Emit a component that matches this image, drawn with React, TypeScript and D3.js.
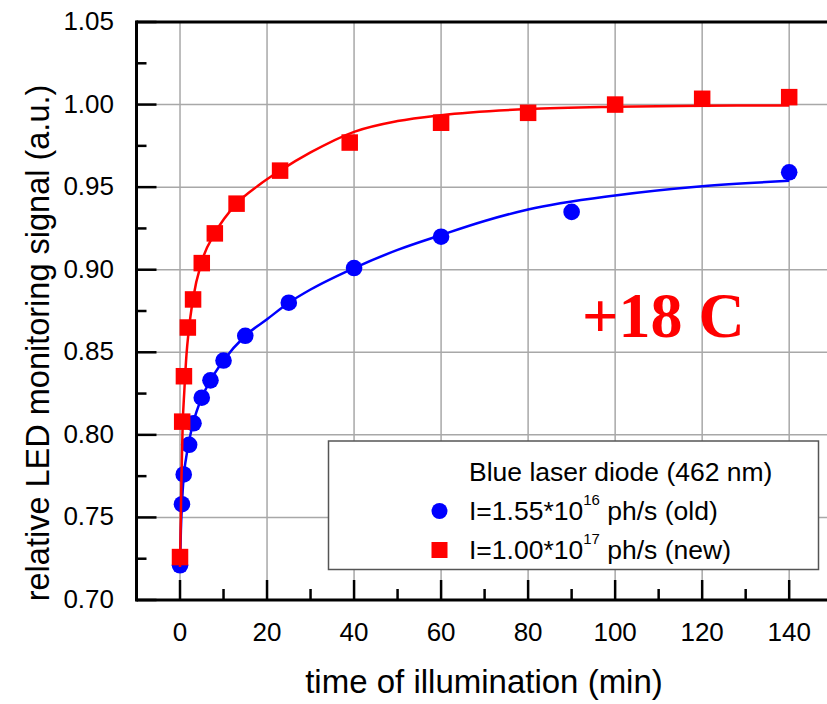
import React from 'react';
import * as d3 from 'd3';

const redTime = [0, 0.5, 0.9, 1.8, 3, 5, 8, 13, 23, 39, 60, 80, 100, 120, 140];
const redSignal = [0.726, 0.808, 0.8355, 0.865, 0.882, 0.904, 0.922, 0.94, 0.96, 0.977, 0.989, 0.995, 1.0, 1.0035, 1.0045];
const blueTime = [0, 0.45, 0.85, 2.1, 3.1, 5, 7, 10, 15, 25, 40, 60, 90, 140];
const blueSignal = [0.721, 0.758, 0.776, 0.794, 0.807, 0.8225, 0.833, 0.845, 0.86, 0.88, 0.901, 0.92, 0.935, 0.959];

const redFitTime = [0, 0.3, 0.6, 1, 1.5, 2, 3, 5, 8, 13, 18, 23, 30, 40, 50, 60, 80, 100, 120, 140];
const redFitSignal = [0.72, 0.77, 0.805, 0.827, 0.849, 0.863, 0.8825, 0.905, 0.922, 0.94, 0.951, 0.96, 0.971, 0.9835, 0.99, 0.9936, 0.9973, 0.9987, 0.9993, 0.9995];
const blueFitTime = [0, 0.2, 0.45, 0.85, 1.4, 2, 3, 5, 7, 10, 15, 20, 25, 30, 40, 50, 60, 70, 80, 100, 120, 140];
const blueFitSignal = [0.72, 0.742, 0.758, 0.775, 0.786, 0.795, 0.807, 0.8225, 0.833, 0.845, 0.86, 0.87, 0.88, 0.888, 0.901, 0.912, 0.921, 0.9295, 0.9365, 0.945, 0.9506, 0.9538];

const xMajorTicks = [0, 20, 40, 60, 80, 100, 120, 140];
const xMinorTicks = [10, 30, 50, 70, 90, 110, 130];
const yMajorTicks = [0.7, 0.75, 0.8, 0.85, 0.9, 0.95, 1.0, 1.05];
const yMinorTicks = [0.725, 0.775, 0.825, 0.875, 0.925, 0.975, 1.025];
const yGrid = [0.75, 0.8, 0.85, 0.9, 0.95, 1.0];

const legendTitle = 'Blue laser diode (462 nm)';
const legendOld = ['I=1.55*10', '16', ' ph/s (old)'];
const legendNew = ['I=1.00*10', '17', ' ph/s (new)'];
const xTitle = 'time of illumination (min)';
const yTitle = 'relative LED monitoring signal (a.u.)';
const annotation = '+18 C';

const W = 827;
const H = 704;
const left = 136.5;
const top = 22;
const bottom = 600;

export default function App() {
  const x = d3.scaleLinear().domain([-10, 150]).range([left, 832.7]);
  const y = d3.scaleLinear().domain([0.7, 1.05]).range([bottom, top]);
  const fmt = d3.format('.2f');
  const line = d3
    .line<[number, number]>()
    .x((d) => x(d[0]))
    .y((d) => y(d[1]))
    .curve(d3.curveMonotoneX);
  const redFit = line(redFitTime.map((t, i) => [t, redFitSignal[i]]) as [number, number][]) || '';
  const blueFit = line(blueFitTime.map((t, i) => [t, blueFitSignal[i]]) as [number, number][]) || '';
  const font = 'Arial, "Liberation Sans", sans-serif';
  const grid = '#a8a8a8';
  const sq = 16.5;

  return (
    <svg width={W} height={H} style={{ position: 'absolute', left: 0, top: 0, background: '#fff' }} fontFamily={font}>
      <rect x={0} y={0} width={W} height={H} fill="#fff" />
      {/* grid */}
      {xMajorTicks.map((t) => (
        <line key={'gx' + t} x1={x(t)} x2={x(t)} y1={top} y2={bottom} stroke={grid} strokeWidth={1.5} />
      ))}
      {yGrid.map((t) => (
        <line key={'gy' + t} x1={left} x2={W} y1={y(t)} y2={y(t)} stroke={grid} strokeWidth={1.5} />
      ))}
      {/* legend box */}
      <rect x={328.5} y={441} width={490} height={128.5} fill="#fff" stroke="#555" strokeWidth={1.5} />
      <text x={469} y={481} fontSize={26.5} fill="#000">{legendTitle}</text>
      <circle cx={439.5} cy={511} r={8} fill="#0000ff" />
      <text x={469} y={520} fontSize={26.5} fill="#000">
        <tspan>{legendOld[0]}</tspan>
        <tspan dy={-15} fontSize={15}>{legendOld[1]}</tspan>
        <tspan dy={15}>{legendOld[2]}</tspan>
      </text>
      <rect x={439.5 - 8} y={550 - 8} width={16} height={16} fill="#ff0000" />
      <text x={469} y={559} fontSize={26.5} fill="#000">
        <tspan>{legendNew[0]}</tspan>
        <tspan dy={-15} fontSize={15}>{legendNew[1]}</tspan>
        <tspan dy={15}>{legendNew[2]}</tspan>
      </text>
      {/* annotation */}
      <text x={582} y={337} fontSize={64} fontWeight="bold" fill="#ff0000" fontFamily='"Times New Roman", "Liberation Serif", serif'>
        {annotation}
      </text>
      {/* blue series */}
      <path d={blueFit} fill="none" stroke="#0000ff" strokeWidth={2.5} />
      {blueTime.map((t, i) => (
        <circle key={'b' + i} cx={x(t)} cy={y(blueSignal[i])} r={8.3} fill="#0000ff" />
      ))}
      {/* red series */}
      <path d={redFit} fill="none" stroke="#ff0000" strokeWidth={2.5} />
      {redTime.map((t, i) => (
        <rect key={'r' + i} x={x(t) - sq / 2} y={y(redSignal[i]) - sq / 2} width={sq} height={sq} fill="#ff0000" />
      ))}
      {/* axes */}
      <line x1={left} x2={W} y1={bottom} y2={bottom} stroke="#000" strokeWidth={3} />
      <line x1={left} x2={W} y1={top} y2={top} stroke="#000" strokeWidth={3} />
      <line x1={left} x2={left} y1={top - 1.5} y2={bottom + 1.5} stroke="#000" strokeWidth={3} />
      {xMajorTicks.map((t) => (
        <line key={'xt' + t} x1={x(t)} x2={x(t)} y1={bottom} y2={bottom - 20} stroke="#000" strokeWidth={2.5} />
      ))}
      {xMinorTicks.map((t) => (
        <line key={'xm' + t} x1={x(t)} x2={x(t)} y1={bottom} y2={bottom - 11} stroke="#000" strokeWidth={2.5} />
      ))}
      {yMajorTicks.map((t) => (
        <line key={'yt' + t} x1={left} x2={left + 20} y1={y(t)} y2={y(t)} stroke="#000" strokeWidth={2.5} />
      ))}
      {yMinorTicks.map((t) => (
        <line key={'ym' + t} x1={left} x2={left + 10} y1={y(t)} y2={y(t)} stroke="#000" strokeWidth={2.5} />
      ))}
      {/* tick labels */}
      {xMajorTicks.map((t) => (
        <text key={'xl' + t} x={x(t)} y={641} fontSize={26} textAnchor="middle" fill="#000">
          {t}
        </text>
      ))}
      {yMajorTicks.map((t) => (
        <text key={'yl' + t} x={114} y={y(t) + 8} fontSize={26} textAnchor="end" fill="#000">
          {fmt(t)}
        </text>
      ))}
      {/* titles */}
      <text x={484} y={693} fontSize={33} textAnchor="middle" fill="#000">
        {xTitle}
      </text>
      <text transform={`translate(49,343) rotate(-90)`} fontSize={32.5} textAnchor="middle" fill="#000">
        {yTitle}
      </text>
    </svg>
  );
}
